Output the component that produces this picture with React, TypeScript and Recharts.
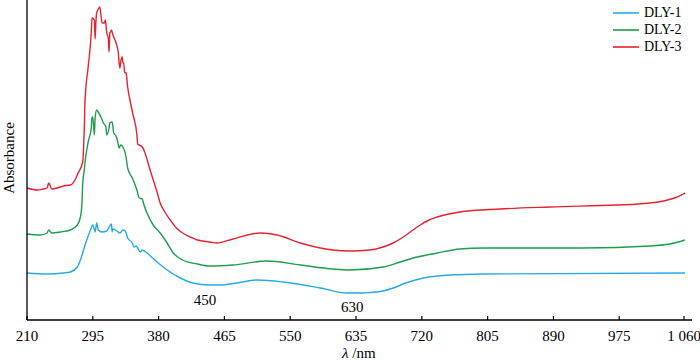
import { LineChart, Line, XAxis, YAxis, ReferenceDot } from 'recharts';

const X_TICKS = [210, 295, 380, 465, 550, 635, 720, 805, 890, 975, 1060];

const DLY1_NM = [210, 236, 257, 266, 275, 279, 285, 291, 295, 296, 298, 300, 302, 307, 313, 319, 320, 321, 326, 330, 334, 337, 340, 346, 348, 351, 353, 356, 359, 365, 378, 391, 408, 424, 446, 459, 481, 507, 541, 589, 623, 644, 653, 670, 683, 701, 722, 740, 756, 799, 1060];
const DLY1_ABS = [0.47, 0.46, 0.47, 0.48, 0.53, 0.60, 0.75, 0.88, 0.95, 0.93, 0.88, 0.97, 0.90, 0.88, 0.89, 0.96, 0.88, 0.91, 0.89, 0.87, 0.90, 0.89, 0.82, 0.77, 0.73, 0.74, 0.72, 0.68, 0.70, 0.67, 0.58, 0.50, 0.42, 0.37, 0.35, 0.35, 0.37, 0.40, 0.38, 0.32, 0.27, 0.27, 0.275, 0.29, 0.32, 0.375, 0.42, 0.44, 0.45, 0.46, 0.47];

const DLY2_NM = [210, 227, 236, 238, 242, 253, 266, 275, 279, 281, 282, 284, 285, 289, 293, 294, 295, 297, 298, 300, 302, 306, 308, 312, 313, 316, 317, 320, 321, 322, 324, 326, 328, 329, 331, 334, 338, 340, 346, 352, 355, 359, 360, 365, 373, 382, 391, 399, 411, 430, 446, 476, 520, 563, 605, 627, 670, 692, 714, 740, 769, 799, 928, 1015, 1040, 1060];
const DLY2_ABS = [0.86, 0.85, 0.87, 0.90, 0.87, 0.88, 0.90, 0.95, 1.03, 1.17, 1.37, 1.50, 1.58, 1.78, 1.92, 2.03, 2.03, 1.85, 2.02, 2.10, 2.08, 2.02, 1.98, 1.93, 1.85, 1.92, 1.97, 1.98, 1.93, 1.87, 1.85, 1.82, 1.75, 1.72, 1.75, 1.73, 1.63, 1.52, 1.42, 1.30, 1.22, 1.21, 1.18, 1.07, 0.95, 0.87, 0.77, 0.67, 0.60, 0.56, 0.54, 0.55, 0.59, 0.55, 0.51, 0.50, 0.53, 0.58, 0.63, 0.67, 0.71, 0.72, 0.72, 0.74, 0.76, 0.80];

const DLY3_NM = [210, 224, 231, 236, 238, 242, 249, 257, 266, 272, 276, 282, 284, 285, 289, 293, 294, 297, 298, 299, 300, 303, 304, 306, 307, 310, 311, 312, 313, 315, 316, 317, 318, 319, 321, 325, 328, 329, 330, 331, 333, 334, 335, 336, 338, 340, 343, 347, 352, 353, 359, 362, 366, 371, 378, 382, 388, 395, 403, 411, 421, 430, 446, 455, 476, 511, 533, 563, 605, 627, 653, 670, 683, 696, 705, 718, 728, 740, 755, 769, 821, 886, 972, 1000, 1020, 1035, 1048, 1060];
const DLY3_ABS = [1.32, 1.30, 1.31, 1.32, 1.37, 1.31, 1.32, 1.34, 1.35, 1.40, 1.47, 1.58, 1.92, 2.20, 2.53, 2.87, 3.02, 3.00, 2.81, 2.98, 3.07, 3.12, 3.13, 3.02, 2.97, 2.97, 3.00, 2.95, 2.87, 2.82, 2.68, 2.87, 2.88, 2.90, 2.85, 2.77, 2.67, 2.57, 2.52, 2.58, 2.63, 2.57, 2.57, 2.48, 2.47, 2.33, 2.20, 2.05, 1.85, 1.76, 1.73, 1.68, 1.58, 1.45, 1.28, 1.17, 1.08, 1.00, 0.92, 0.87, 0.83, 0.80, 0.78, 0.77, 0.81, 0.87, 0.85, 0.77, 0.70, 0.69, 0.70, 0.73, 0.77, 0.83, 0.88, 0.95, 0.995, 1.03, 1.06, 1.08, 1.11, 1.13, 1.15, 1.16, 1.175, 1.195, 1.225, 1.27];

const SERIES = [
  { name: 'DLY-1', nm: DLY1_NM, abs: DLY1_ABS, color: '#29a9e4' },
  { name: 'DLY-2', nm: DLY2_NM, abs: DLY2_ABS, color: '#1f9d4c' },
  { name: 'DLY-3', nm: DLY3_NM, abs: DLY3_ABS, color: '#e8212e' },
];

const MARKS = [
  { nm: 440, abs: 0.2, text: '450' },
  { nm: 630, abs: 0.135, text: '630' },
];

const FONT = '"Liberation Serif", "Times New Roman", serif';

const fmtTick = (v: number) => (v >= 1000 ? `${Math.floor(v / 1000)} ${String(v % 1000).padStart(3, '0')}` : String(v));

const AxisTick = ({ x, y, payload }: any) => (
  <g>
    <line x1={x} x2={x} y1={y} y2={y - 4} stroke="#000" strokeWidth={1.2} />
    <text x={x} y={y + 21} textAnchor="middle" fontSize={15} fontFamily={FONT} fill="#000">
      {fmtTick(payload.value)}
    </text>
  </g>
);

export default function App() {
  return (
    <div style={{ position: 'absolute', left: 0, top: 0, width: 700, height: 363, background: '#fff', fontFamily: FONT }}>
      <LineChart width={700} height={363} margin={{ top: 0, right: 8, bottom: 0, left: 0 }}>
        <XAxis
          type="number"
          dataKey="nm"
          domain={[210, 1069]}
          ticks={X_TICKS}
          allowDuplicatedCategory={false}
          height={43}
          tickSize={0}
          tickMargin={0}
          tickLine={false}
          tick={<AxisTick />}
          axisLine={{ stroke: '#000', strokeWidth: 1.3 }}
        />
        <YAxis
          type="number"
          domain={[0, 3.2]}
          width={27}
          tick={false}
          tickLine={false}
          axisLine={{ stroke: '#000', strokeWidth: 1.3 }}
        />
        {SERIES.map((s) => (
          <Line
            key={s.name}
            data={s.nm.map((nm, i) => ({ nm, abs: s.abs[i] }))}
            dataKey="abs"
            type="monotone"
            stroke={s.color}
            strokeWidth={1.4}
            dot={false}
            isAnimationActive={false}
          />
        ))}
        {MARKS.map((m) => (
          <ReferenceDot
            key={m.text}
            x={m.nm}
            y={m.abs}
            r={0}
            fill="none"
            stroke="none"
            label={{ value: m.text, position: 'center', fontSize: 15, fontFamily: FONT, fill: '#000' }}
          />
        ))}
      </LineChart>

      <div
        style={{
          position: 'absolute',
          left: 9,
          top: 158,
          transform: 'translate(-50%, -50%) rotate(-90deg)',
          fontSize: 15,
          whiteSpace: 'nowrap',
        }}
      >
        Absorbance
      </div>
      <div style={{ position: 'absolute', left: 342, top: 345, fontSize: 15, whiteSpace: 'nowrap' }}>
        <i>λ</i> /nm
      </div>

      <div style={{ position: 'absolute', left: 613, top: 4, fontSize: 14, lineHeight: '17px' }}>
        {SERIES.map((s) => (
          <div key={s.name} style={{ display: 'flex', alignItems: 'center' }}>
            <svg width={26} height={4} style={{ marginRight: 5 }}>
              <line x1={0} x2={26} y1={2} y2={2} stroke={s.color} strokeWidth={1.6} />
            </svg>
            <span>{s.name}</span>
          </div>
        ))}
      </div>
    </div>
  );
}
